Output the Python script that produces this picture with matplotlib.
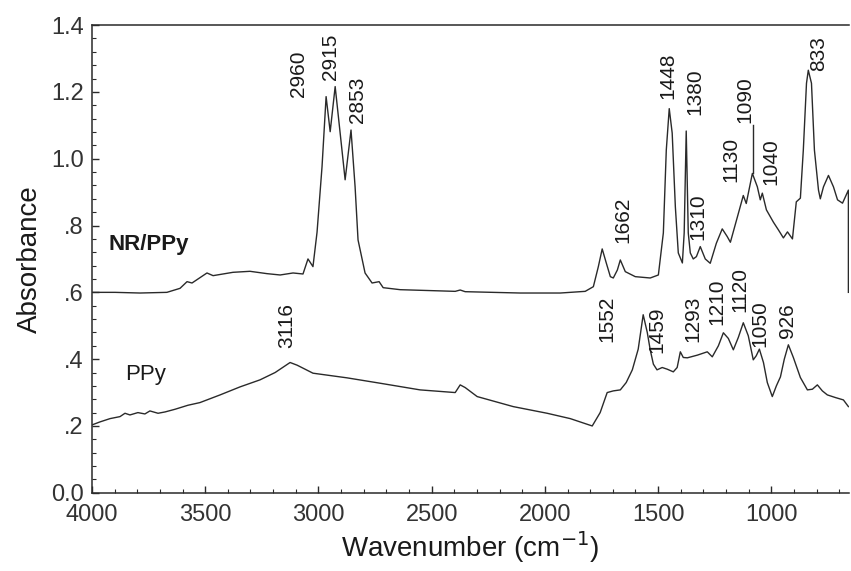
import numpy as np
import matplotlib
matplotlib.use("Agg")
import matplotlib.pyplot as plt
from matplotlib.ticker import MultipleLocator

plt.rcParams['font.family'] = ['Liberation Sans', 'DejaVu Sans']

# --- NR/PPy spectrum (wavenumber, absorbance) ---
wn_nr = [4000, 3898, 3788, 3669, 3611, 3580, 3558, 3492, 3465, 3377, 3302, 3227,
         3169, 3112, 3068, 3046, 3024, 3006, 2984, 2966, 2948, 2926, 2904, 2882,
         2856, 2838, 2825, 2794, 2763, 2732, 2714, 2639, 2396, 2374, 2352, 2109,
         1932, 1822, 1786, 1764, 1747, 1729, 1711, 1698, 1680, 1667, 1645, 1601,
         1535, 1499, 1477, 1464, 1451, 1438, 1424, 1411, 1393, 1385, 1376, 1367,
         1358, 1345, 1331, 1314, 1292, 1270, 1243, 1217, 1195, 1181, 1150, 1124,
         1111, 1084, 1062, 1049, 1040, 1022, 991, 969, 947, 929, 907, 890, 872,
         859, 845, 837, 823, 810, 792, 784, 770, 748, 726, 708, 686, 660, 660]
ab_nr = [0.600, 0.600, 0.598, 0.600, 0.612, 0.632, 0.628, 0.658, 0.650, 0.660, 0.663, 0.656,
         0.652, 0.658, 0.655, 0.700, 0.677, 0.780, 0.976, 1.186, 1.081, 1.216, 1.077, 0.937,
         1.086, 0.916, 0.757, 0.658, 0.628, 0.632, 0.614, 0.608, 0.603, 0.607, 0.602, 0.598,
         0.598, 0.603, 0.617, 0.677, 0.730, 0.688, 0.647, 0.643, 0.667, 0.697, 0.662, 0.647,
         0.643, 0.652, 0.778, 1.026, 1.150, 1.077, 0.856, 0.718, 0.688, 0.778, 1.083, 0.778,
         0.718, 0.700, 0.707, 0.737, 0.700, 0.687, 0.747, 0.790, 0.767, 0.750, 0.826, 0.890,
         0.866, 0.956, 0.916, 0.877, 0.897, 0.847, 0.810, 0.787, 0.763, 0.781, 0.760, 0.871, 0.882,
         1.026, 1.226, 1.265, 1.226, 1.026, 0.906, 0.880, 0.916, 0.950, 0.916, 0.877, 0.867, 0.906, 0.600]

# --- PPy spectrum ---
wn_ppy = [4000, 3965, 3920, 3876, 3854, 3832, 3797, 3766, 3744, 3708, 3677, 3633,
          3576, 3523, 3434, 3346, 3258, 3191, 3125, 3094, 3024, 2873, 2728, 2551,
          2396, 2374, 2352, 2299, 2140, 1990, 1888, 1791, 1756, 1725, 1698, 1667,
          1641, 1614, 1588, 1566, 1548, 1535, 1521, 1505, 1482, 1460, 1433, 1416,
          1402, 1389, 1371, 1327, 1283, 1261, 1234, 1212, 1190, 1168, 1146, 1124,
          1102, 1080, 1067, 1053, 1035, 1018, 996, 978, 960, 943, 925, 903, 872,
          841, 819, 797, 775, 753, 717, 682, 660]
ab_ppy = [0.203, 0.212, 0.222, 0.228, 0.238, 0.233, 0.240, 0.236, 0.245, 0.238, 0.242, 0.250,
          0.262, 0.270, 0.293, 0.317, 0.338, 0.360, 0.390, 0.382, 0.358, 0.344, 0.328, 0.308,
          0.300, 0.323, 0.315, 0.288, 0.258, 0.238, 0.222, 0.200, 0.240, 0.300, 0.305, 0.308,
          0.330, 0.368, 0.430, 0.533, 0.480, 0.428, 0.385, 0.368, 0.375, 0.370, 0.362, 0.375,
          0.422, 0.405, 0.404, 0.412, 0.422, 0.407, 0.440, 0.479, 0.462, 0.428, 0.465, 0.509,
          0.470, 0.398, 0.410, 0.430, 0.390, 0.330, 0.288, 0.320, 0.347, 0.400, 0.443, 0.405, 0.345,
          0.308, 0.310, 0.323, 0.305, 0.293, 0.285, 0.278, 0.258]

# peak labels: text, x position, bottom of text
lab_nr = ['2960', '2915', '2853', '1662', '1448', '1380', '1310', '1130', '1090', '1040', '833']
lab_nr_x = [3090, 2948, 2829, 1654, 1455, 1336, 1323, 1181, 1115, 1004, 792]
lab_nr_y = [1.185, 1.236, 1.107, 0.748, 1.18, 1.13, 0.757, 0.93, 1.107, 0.92, 1.262]

lab_ppy = ['3116', '1552', '1459', '1293', '1210', '1120', '1050', '926']
lab_ppy_x = [3138, 1725, 1504, 1345, 1239, 1137, 1049, 929]
lab_ppy_y = [0.434, 0.452, 0.419, 0.452, 0.503, 0.542, 0.437, 0.464]

ytick_vals = [0.0, 0.2, 0.4, 0.6, 0.8, 1.0, 1.2, 1.4]
ytick_labels = ['0.0', '.2', '.4', '.6', '.8', '1.0', '1.2', '1.4']
xtick_vals = [4000, 3500, 3000, 2500, 2000, 1500, 1000]

fig = plt.figure(figsize=(8.51, 5.71), dpi=100)
ax = fig.add_axes([0.108, 0.137, 0.890, 0.819])

col = '#2a2a2a'
ax.plot(wn_nr, ab_nr, color=col, lw=1.0)
ax.plot(wn_ppy, ab_ppy, color=col, lw=1.0)

for t, x, y in zip(lab_nr, lab_nr_x, lab_nr_y):
    ax.text(x, y, t, rotation=90, ha='center', va='bottom', fontsize=15, color='#1a1a1a')
for t, x, y in zip(lab_ppy, lab_ppy_x, lab_ppy_y):
    ax.text(x, y, t, rotation=90, ha='center', va='bottom', fontsize=15, color='#1a1a1a')

# leader line for 1090
ax.plot([1080, 1080], [0.956, 1.10], color=col, lw=1.0)

ax.text(3925, 0.742, 'NR/PPy', fontsize=16, fontweight='bold', va='center', ha='left', color='#1a1a1a')
ax.text(3855, 0.353, 'PPy', fontsize=16, va='center', ha='left', color='#1a1a1a')

ax.set_xlim(4000, 656)
ax.set_ylim(0, 1.4)
ax.set_xticks(xtick_vals)
ax.set_xticklabels([str(v) for v in xtick_vals])
ax.set_yticks(ytick_vals)
ax.set_yticklabels(ytick_labels)
ax.xaxis.set_minor_locator(MultipleLocator(100))
ax.yaxis.set_minor_locator(MultipleLocator(0.04))
ax.tick_params(which='both', direction='in', colors=col, labelsize=17, labelcolor='#333333')
ax.tick_params(which='major', length=5, width=1.0)
ax.tick_params(which='minor', length=3, width=0.8)
ax.tick_params(axis='x', pad=8)
ax.tick_params(axis='y', pad=6)

ax.spines['right'].set_visible(False)
for s in ['left', 'bottom', 'top']:
    ax.spines[s].set_color(col)
    ax.spines[s].set_linewidth(1.1)

ax.set_xlabel('Wavenumber (cm$^{-1}$)', fontsize=20, color='#1a1a1a', labelpad=2)
ax.set_ylabel('Absorbance', fontsize=20, color='#1a1a1a', labelpad=6)

fig.savefig('out.png', dpi=100)
